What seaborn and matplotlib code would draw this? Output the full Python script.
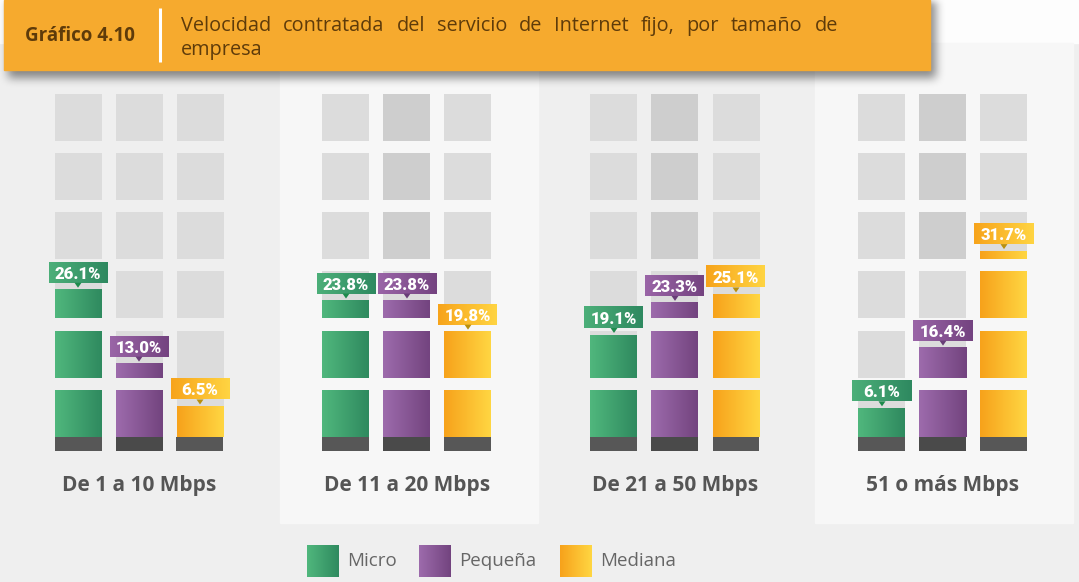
import numpy as np
import pandas as pd
import matplotlib
matplotlib.use("Agg")
import matplotlib.pyplot as plt
from matplotlib.patches import Rectangle, Polygon
from matplotlib.colors import to_rgb
import seaborn as sns

# ---- data -------------------------------------------------------------
groups = ["De 1 a 10 Mbps", "De 11 a 20 Mbps", "De 21 a 50 Mbps", "51 o más Mbps"]
sizes = ["Micro", "Pequeña", "Mediana"]
micro = [26.1, 23.8, 19.1, 6.1]
pequena = [13.0, 23.8, 23.3, 16.4]
mediana = [6.5, 19.8, 25.1, 31.7]
title_tag = "Gráfico 4.10"
title_lines = ["Velocidad contratada del servicio de Internet fijo, por tamaño de",
               "empresa"]

df = pd.DataFrame({
    "grupo": np.repeat(groups, len(sizes)),
    "tamaño": sizes * len(groups),
    "valor": np.ravel(np.column_stack([micro, pequena, mediana])),
})

# ---- styling ----------------------------------------------------------
W, H = 1079, 582
sns.set_theme(style="white")
plt.rcParams["font.family"] = ["Open Sans", "DejaVu Sans"]

grad_fill = {"Micro": ("#50b77d", "#2f8a5f"),
             "Pequeña": ("#9d6bac", "#73447f"),
             "Mediana": ("#f7a21b", "#ffd642")}
grad_box = {"Micro": ("#4caf79", "#2e8960"),
            "Pequeña": ("#9a65a7", "#744380"),
            "Mediana": ("#f7a41b", "#ffd442")}
pointer_col = {"Micro": "#1d8a4c", "Pequeña": "#683d77", "Mediana": "#b8900e"}
TEXT_DARK = "#5e3b0a"


def hgrad(axis, c0, c1, l, r, b, t, z):
    """Left-to-right colour gradient filling a rectangle."""
    c0, c1 = np.array(to_rgb(c0)), np.array(to_rgb(c1))
    s = np.linspace(0, 1, 64)[None, :, None]
    img = c0 + (c1 - c0) * s
    axis.imshow(img, extent=(l, r, b, t), aspect="auto",
                interpolation="bilinear", zorder=z)


fig = plt.figure(figsize=(W / 100, H / 100), dpi=100)
fig.patch.set_facecolor("#efefef")
renderer = fig.canvas.get_renderer()

# ---- background layer (pixel coordinates) -----------------------------
bg = fig.add_axes([0, 0, 1, 1], zorder=0)
bg.axis("off")
bg.set_xlim(0, W)
bg.set_ylim(H, 0)
bg.add_patch(Rectangle((0, 0), W, 43, color="#fdfdfd", zorder=0))
for left in (280, 815):
    bg.add_patch(Rectangle((left, 43), 258, 480, color="#f7f7f7", zorder=1))

# soft drop shadow under the title banner
sh = np.zeros((120, 990))
sh[0:78, 8:936] = 1.0
k = np.ones(9) / 9
for _ in range(3):
    sh = np.apply_along_axis(lambda m: np.convolve(m, k, mode="same"), 0, sh)
    sh = np.apply_along_axis(lambda m: np.convolve(m, k, mode="same"), 1, sh)
rgba = np.zeros(sh.shape + (4,))
rgba[..., 3] = sh * 0.45
bg.imshow(rgba, extent=(0, 990, 120, 0), aspect="auto",
          interpolation="bilinear", zorder=2)
bg.set_xlim(0, W)
bg.set_ylim(H, 0)

# title banner
bg.add_patch(Rectangle((4, 0), 926, 70, color="#f6aa2e", zorder=3))
bg.plot([160, 160], [8, 62], color="white", lw=2.2, zorder=4,
        solid_capstyle="butt")
bg.text(25, 36, title_tag, fontsize=13.5, fontweight="bold", color=TEXT_DARK,
        va="center", ha="left", zorder=5)

# justified first title line, ragged last line
TITLE_L, TITLE_R = 181, 838
TITLE_FS = 14.3
for j, line in enumerate(title_lines):
    y = 26 + 24 * j
    words = line.split(" ")
    if j < len(title_lines) - 1 and len(words) > 1:
        arts = [bg.text(0, y, w, fontsize=TITLE_FS, color=TEXT_DARK,
                        va="center", ha="left", zorder=5) for w in words]
        widths = [a.get_window_extent(renderer).width for a in arts]
        gap = (TITLE_R - TITLE_L - sum(widths)) / (len(words) - 1)
        x = TITLE_L
        for a, wd in zip(arts, widths):
            a.set_x(x)
            x += wd + gap
    else:
        bg.text(TITLE_L, y, line, fontsize=TITLE_FS, color=TEXT_DARK,
                va="center", ha="left", zorder=5)

# legend
leg_x = [307, 419, 560]
for s, lx in zip(sizes, leg_x):
    c0, c1 = grad_fill[s]
    hgrad(bg, c0, c1, lx, lx + 32, 577, 545, 5)
    bg.text(lx + 40, 561, s, fontsize=13.5, color="#666666",
            va="center", ha="left", zorder=5)

bg.set_xlim(0, W)
bg.set_ylim(H, 0)

# ---- chart layer ------------------------------------------------------
PX = 5.93                 # pixels per percentage point
TOP_PX, BOT_PX, ZERO_PX = 85, 451, 437
ax = fig.add_axes([0, (H - BOT_PX) / H, 1, (BOT_PX - TOP_PX) / H], zorder=1)
ax.patch.set_alpha(0)

DX = 61 / 268             # spacing between columns of one group
BW = 47 / 268             # column width
PITCH, BH, NBLK = 10, 47 / PX, 6

# dark base under every column
base = df.assign(base=-3.0)
sns.barplot(data=base, x="grupo", y="base", hue="tamaño", order=groups,
            hue_order=sizes, palette=["#575757", "#4a4a4a", "#575757"],
            width=3 * DX, gap=1 - BW / DX, legend=False, ax=ax,
            linewidth=0, zorder=2)

# background blocks
for g in range(len(groups)):
    for kk in range(len(sizes)):
        xc = g + (kk - 1) * DX
        for i in range(NBLK):
            darker = kk == 1 and g >= 1 and i >= 3
            ax.bar(xc, BH, width=BW, bottom=i * PITCH, linewidth=0,
                   color="#cecece" if darker else "#dcdcdc", zorder=2)

# filled blocks + value labels
for row in df.itertuples(index=False):
    g = groups.index(row.grupo)
    kk = sizes.index(row.tamaño)
    v = row.valor
    xc = g + (kk - 1) * DX
    l, r = xc - BW / 2, xc + BW / 2
    c0, c1 = grad_fill[row.tamaño]
    top = 0.0
    for i in range(NBLK):
        frac = np.clip((v - i * PITCH) / PITCH, 0, 1)
        if frac <= 0:
            break
        top = i * PITCH + BH * frac
        hgrad(ax, c0, c1, l, r, i * PITCH, top, 3)

    # value tag above the fill
    bb = top + 7 / PX
    bh = 21 / PX
    hw = 29.5 / 268
    b0, b1 = grad_box[row.tamaño]
    hgrad(ax, b0, b1, xc - hw, xc + hw, bb, bb + bh, 4)
    pw = 3.5 / 268
    ax.add_patch(Polygon([(xc - pw, bb), (xc + pw, bb), (xc, bb - 5 / PX)],
                         closed=True, color=pointer_col[row.tamaño],
                         linewidth=0, zorder=4))
    ax.text(xc, bb + bh / 2, f"{v:.1f}%", ha="center", va="center_baseline",
            color="white", fontsize=12, fontweight="heavy",
            family=["Roboto", "DejaVu Sans"], zorder=5)

ax.set_xlim(-139 / 268, (W - 139) / 268)
ax.set_ylim((ZERO_PX - BOT_PX) / PX, (ZERO_PX - TOP_PX) / PX)
ax.set_xticks(range(len(groups)))
ax.set_xticklabels(groups, fontsize=15, fontweight="bold", color="#555555")
ax.tick_params(axis="x", length=0, pad=17)
ax.set_yticks([])
ax.set_xlabel("")
ax.set_ylabel("")
sns.despine(ax=ax, left=True, bottom=True)

fig.savefig("out.png", dpi=100, facecolor=fig.get_facecolor())
